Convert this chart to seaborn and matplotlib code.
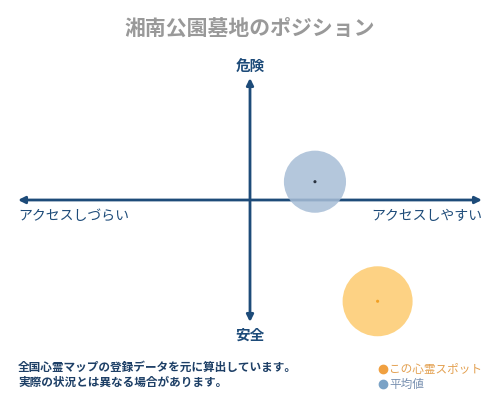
import pandas as pd
import seaborn as sns
import matplotlib.pyplot as plt
from matplotlib.lines import Line2D

sns.set_style("white")
plt.rcParams["font.family"] = ["Noto Sans CJK JP", "DejaVu Sans"]

# positions on the access (x) / danger (y) map, both scaled to -1..1
labels = ["この心霊スポット", "平均値"]
access = [0.55, 0.28]
danger = [-0.83, 0.15]

title = "湘南公園墓地のポジション"
axis_labels = {"top": "危険", "bottom": "安全", "left": "アクセスしづらい", "right": "アクセスしやすい"}
notes = ["全国心霊マップの登録データを元に算出しています。", "実際の状況とは異なる場合があります。"]

NAVY = "#1d4b79"
fill_colors = {"この心霊スポット": "#fdcb6e", "平均値": "#a7bdd6"}
dot_colors = {"この心霊スポット": "#f2a024", "平均値": "#2a3340"}
legend_dot = {"この心霊スポット": "#f0a040", "平均値": "#7aa2c6"}
legend_text = {"この心霊スポット": "#e3a050", "平均値": "#7890b0"}


def main():
    df = pd.DataFrame({"label": labels, "access": access, "danger": danger})

    fig = plt.figure(figsize=(5, 4), dpi=100)
    ax = fig.add_axes([18 / 500, 78 / 400, 464 / 500, 244 / 400])
    ax.set_xlim(-1, 1)
    ax.set_ylim(-1, 1)
    ax.axis("off")

    # axes arrows
    arrow = dict(arrowstyle="<|-|>,head_length=0.4,head_width=0.2", color=NAVY, lw=2,
                 shrinkA=0, shrinkB=0)
    ax.annotate("", xy=(1, 0), xytext=(-1, 0), arrowprops=arrow)
    ax.annotate("", xy=(0, 1), xytext=(0, -1), arrowprops=arrow)

    sns.scatterplot(
        data=df, x="access", y="danger", hue="label", palette=fill_colors,
        size="label", sizes={"この心霊スポット": 2540, "平均値": 2000},
        alpha=0.85, linewidth=0, legend=False, ax=ax, zorder=3, clip_on=False,
    )
    sns.scatterplot(
        data=df, x="access", y="danger", hue="label", palette=dot_colors,
        s=5, linewidth=0, legend=False, ax=ax, zorder=4, clip_on=False,
    )
    ax.set_xlim(-1, 1)
    ax.set_ylim(-1, 1)

    fig.text(0.5, 1 - 28 / 400, title, ha="center", va="center",
             fontsize=15, fontweight="bold", color="#999999")
    lab = dict(fontsize=10.5, fontweight="bold", color=NAVY, va="center")
    fig.text(0.5, 1 - 67 / 400, axis_labels["top"], ha="center", **lab)
    fig.text(0.5, 1 - 335 / 400, axis_labels["bottom"], ha="center", **lab)
    side = dict(fontsize=10, color=NAVY, va="center")
    fig.text(18 / 500, 1 - 216 / 400, axis_labels["left"], ha="left", **side)
    fig.text(482 / 500, 1 - 216 / 400, axis_labels["right"], ha="right", **side)

    for i, note in enumerate(notes):
        fig.text(18 / 500, 1 - (367 + 15 * i) / 400, note, ha="left", va="center",
                 fontsize=8.4, fontweight="bold", color="#1d3f66")

    handles = [Line2D([], [], marker="o", ls="", markersize=6, color=legend_dot[l]) for l in labels]
    leg = fig.legend(handles, labels, loc="upper left", bbox_to_anchor=(372 / 500, 1 - 358 / 400),
                     frameon=False, fontsize=8.4, handletextpad=0.05, labelspacing=0.2,
                     borderaxespad=0, handlelength=1.0)
    for t, l in zip(leg.get_texts(), labels):
        t.set_color(legend_text[l])

    fig.savefig("out.png", dpi=100)


if __name__ == "__main__":
    main()
